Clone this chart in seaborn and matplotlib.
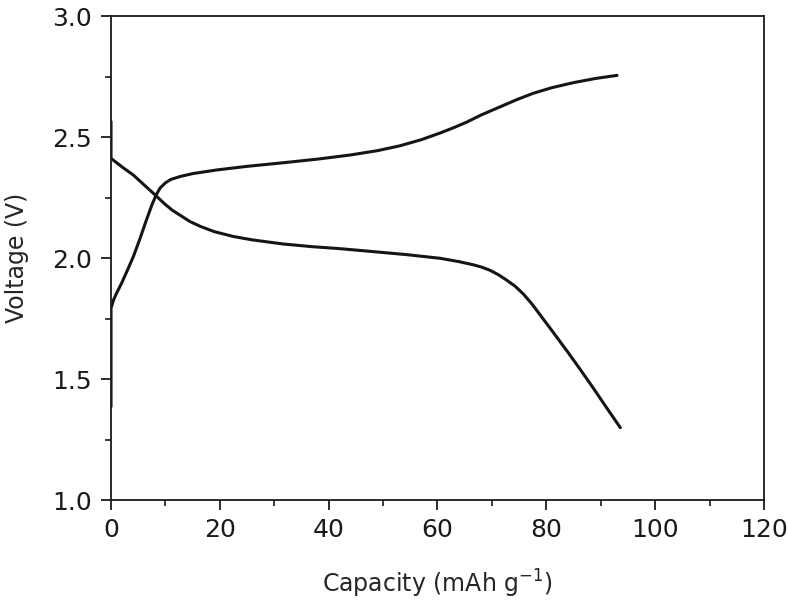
import matplotlib
matplotlib.use("Agg")
import matplotlib.pyplot as plt
import seaborn as sns
import pandas as pd
from matplotlib.ticker import MultipleLocator, FormatStrFormatter

# discharge curve (voltage falls)
discharge_capacity = [0, 0, 2, 4.1, 6, 8.1, 10, 11.3, 12.7, 14.5, 16.4, 19, 22.5,
                      26, 31.7, 37, 42, 47, 54.4, 60.5, 64, 66.6, 68.2, 69.7,
                      71.2, 72.7, 74.3, 75.8, 77.4, 78.9, 81, 83.8, 86, 88.5,
                      91, 93.6]
discharge_voltage = [2.565, 2.413, 2.378, 2.344, 2.305, 2.262, 2.222, 2.198,
                     2.178, 2.152, 2.132, 2.11, 2.09, 2.076, 2.059, 2.048, 2.04,
                     2.03, 2.015, 2.0, 1.986, 1.973, 1.963, 1.95, 1.932, 1.91,
                     1.884, 1.852, 1.81, 1.765, 1.702, 1.617, 1.548, 1.468,
                     1.385, 1.30]

# charge curve (voltage rises)
charge_capacity = [0, 0, 0.5, 1, 2, 3, 4.1, 5.3, 6.5, 7.5, 8.3, 9, 10, 11, 12.7,
                   15, 19.4, 25, 31.7, 38, 44, 49, 53.1, 57, 60.5, 63, 65.4, 68,
                   71.5, 74.5, 77.6, 81, 85, 89, 93]
charge_voltage = [1.387, 1.795, 1.83, 1.855, 1.9, 1.95, 2.007, 2.08, 2.158, 2.22,
                  2.262, 2.29, 2.312, 2.326, 2.338, 2.35, 2.365, 2.38, 2.395,
                  2.41, 2.427, 2.445, 2.465, 2.49, 2.518, 2.54, 2.563, 2.592,
                  2.626, 2.655, 2.682, 2.705, 2.726, 2.743, 2.756]

sns.set_style("ticks")
plt.rcParams["font.family"] = ["DejaVu Sans"]
plt.rcParams["mathtext.fontset"] = "dejavusans"

discharge = pd.DataFrame({"capacity": discharge_capacity, "voltage": discharge_voltage})
charge = pd.DataFrame({"capacity": charge_capacity, "voltage": charge_voltage})

fig = plt.figure(figsize=(7.88, 6), dpi=100)
ax = fig.add_axes([0.1409, 0.1662, 0.8286, 0.8066])

line_color = "#151515"
sns.lineplot(data=discharge, x="capacity", y="voltage", sort=False, estimator=None,
             color=line_color, linewidth=2.2, ax=ax)
sns.lineplot(data=charge, x="capacity", y="voltage", sort=False, estimator=None,
             color=line_color, linewidth=2.2, ax=ax)

ax.set_xlim(0, 120)
ax.set_ylim(1.0, 3.0)
ax.xaxis.set_major_locator(MultipleLocator(20))
ax.xaxis.set_minor_locator(MultipleLocator(10))
ax.yaxis.set_major_locator(MultipleLocator(0.5))
ax.yaxis.set_minor_locator(MultipleLocator(0.25))
ax.yaxis.set_major_formatter(FormatStrFormatter("%.1f"))

for side in ["left", "right", "top", "bottom"]:
    ax.spines[side].set_visible(True)
    ax.spines[side].set_linewidth(1.3)
    ax.spines[side].set_color("#1a1a1a")

ax.tick_params(which="major", direction="out", length=7, width=1.3,
               labelsize=18, colors="#1a1a1a", top=False, right=False)
ax.tick_params(which="minor", direction="out", length=4.5, width=1.2,
               colors="#1a1a1a", top=False, right=False)
ax.tick_params(axis="y", which="major", pad=7)
ax.tick_params(axis="x", which="major", pad=6)

ax.set_xlabel(r"Capacity (mAh g$^{-1}$)", fontsize=17, labelpad=18)
ax.set_ylabel("Voltage (V)", fontsize=17, labelpad=16)

plt.savefig("out.png", dpi=100)
